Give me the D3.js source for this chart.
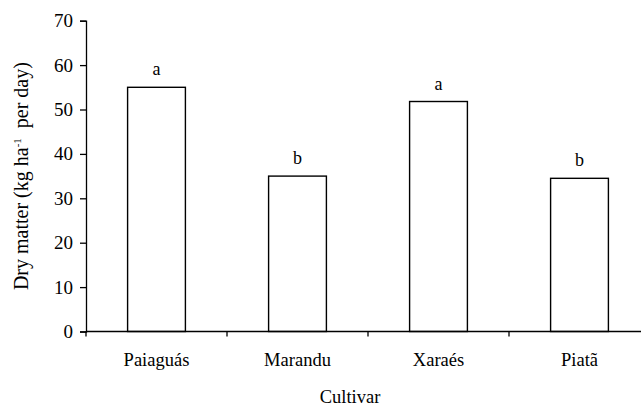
<!DOCTYPE html>
<html>
<head>
<meta charset="utf-8">
<script src="https://cdn.jsdelivr.net/npm/d3@7"></script>
<style>
  body { margin: 0; background: #fff; }
  svg text { font-family: "Liberation Serif", "Times New Roman", Times, "DejaVu Serif", serif; fill: #000; }
</style>
</head>
<body>
<svg id="chart" width="641" height="406"></svg>
<script>
const cultivars = ["Paiaguás", "Marandu", "Xaraés", "Piatã"],
  dryMatter = [55, 35, 51.8, 34.5],
  letters = ["a", "b", "a", "b"],
  yTicks = [0, 10, 20, 30, 40, 50, 60, 70];

const left = 86,
  right = 650,
  top_y = 20.7,
  bottom_y = 331.5;

const svg = d3.select("#chart");

var x = d3.scaleBand()
  .domain(cultivars)
  .range([left, right])
  .paddingInner(0.59)
  .paddingOuter(0.295);

var xTicks = d3.scaleLinear()
  .domain([0, cultivars.length])
  .range([left, right]);

var y = d3.scaleLinear()
  .domain([0, 70])
  .range([bottom_y, top_y]);

// y axis
var yAxis = svg.append("g")
  .attr("transform", `translate(${left},0)`)
  .call(d3.axisLeft(y).tickValues(yTicks).tickSize(6).tickPadding(7));
yAxis.attr("font-family", null).attr("font-size", null);
yAxis.select(".domain").attr("stroke", "#000").attr("stroke-width", 1.3);
yAxis.selectAll(".tick line").attr("stroke-width", 1.3);
yAxis.selectAll("text")
  .style("font-size", "19px");

// bars
svg.append("g").selectAll("rect")
  .data(dryMatter)
  .enter()
  .append("rect")
  .attr("x", (d, i) => x(cultivars[i]))
  .attr("width", x.bandwidth())
  .attr("y", d => y(d))
  .attr("height", d => y(0) - y(d))
  .attr("fill", "#fff")
  .attr("stroke", "#000")
  .attr("stroke-width", 1.4);

// significance letters
svg.append("g").selectAll("text")
  .data(letters)
  .enter()
  .append("text")
  .attr("x", (d, i) => x(cultivars[i]) + x.bandwidth() / 2)
  .attr("y", (d, i) => y(dryMatter[i]) - 12)
  .attr("text-anchor", "middle")
  .style("font-size", "18px")
  .text(d => d);

// x axis
svg.append("line")
  .attr("x1", left).attr("x2", right)
  .attr("y1", y(0)).attr("y2", y(0))
  .attr("stroke", "#000").attr("stroke-width", 1.4);

svg.append("g").selectAll("line")
  .data(d3.range(cultivars.length + 1))
  .enter()
  .append("line")
  .attr("x1", d => xTicks(d)).attr("x2", d => xTicks(d))
  .attr("y1", y(0)).attr("y2", y(0) + 5)
  .attr("stroke", "#000").attr("stroke-width", 1.3);

svg.append("g").selectAll("text")
  .data(cultivars)
  .enter()
  .append("text")
  .attr("x", d => x(d) + x.bandwidth() / 2)
  .attr("y", 366)
  .attr("text-anchor", "middle")
  .style("font-size", "18.5px")
  .text(d => d);

// axis titles
svg.append("text")
  .attr("x", 350)
  .attr("y", 403)
  .attr("text-anchor", "middle")
  .style("font-size", "18.5px")
  .text("Cultivar");

var ylab = svg.append("text")
  .attr("transform", `translate(28,${(top_y + bottom_y) / 2}) rotate(-90)`)
  .attr("text-anchor", "middle")
  .style("font-size", "20px");
ylab.append("tspan").text("Dry matter (kg ha");
ylab.append("tspan").attr("dy", -7).style("font-size", "11px").text("-1");
ylab.append("tspan").attr("dy", 7).text("  per day)").attr("xml:space", "preserve");
</script>
</body>
</html>
